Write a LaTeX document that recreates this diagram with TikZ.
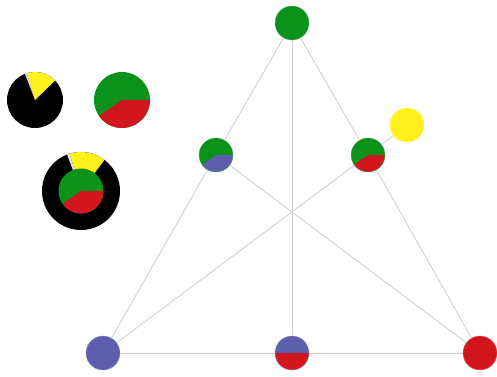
\documentclass[tikz,border=0pt]{standalone}
\begin{document}
\begin{tikzpicture}[x=1pt,y=1pt]
\definecolor{cgreen}{RGB}{10,146,26}
\definecolor{cred}{RGB}{210,22,30}
\definecolor{cblue}{RGB}{94,94,174}
\definecolor{cyellow}{RGB}{255,240,30}
\definecolor{cline}{RGB}{205,205,205}
\definecolor{csliver}{RGB}{225,225,225}
\tikzset{
  dot/.style={circle, inner sep=0pt, minimum size=34pt, fill=#1, draw=#1!70!white, line width=0.4pt},
  twocol/.style n args={3}{circle, inner sep=0pt, minimum size=34pt, fill=#1, draw=#1!70!white, line width=0.4pt,
    path picture={\fill[#2] (path picture bounding box.center) -- ++(#3:20) arc[start angle=#3, end angle=-145, radius=20] -- cycle;}},
  halves/.style 2 args={circle, inner sep=0pt, minimum size=34pt, fill=#1, draw=#1!70!white, line width=0.4pt,
    path picture={\fill[#2] (path picture bounding box.center) ++(-20,0) rectangle ++(40,-20);}},
  link/.style={draw=cline, line width=0.8pt}
}
\useasboundingbox (0,0) rectangle (497,376);
% graph nodes
\node[dot=cgreen] (top) at (292,353) {};
\node[dot=cblue] (bl) at (103,23) {};
\node[halves={cblue}{cred}] (bm) at (292,23) {};
\node[dot=cred] (br) at (480,23) {};
\node[twocol={cgreen}{cblue}{0}] (l) at (216,221) {};
\node[twocol={cgreen}{cred}{0}] (r) at (368,221) {};
\node[dot=cyellow] (y) at (407,251) {};
% connectors
\draw[link] (top) -- (l);
\draw[link] (l) -- (bl);
\draw[link] (top) -- (r);
\draw[link] (r) -- (br);
\draw[link] (bl) -- (bm);
\draw[link] (bm) -- (br);
\draw[link] (top) -- (bm);
\draw[link] (bl) -- (r);
\draw[link] (br) -- (l);
\draw[link] (r) -- (y);
% pie 1 (black / yellow)
\coordinate (p1) at (35,276);
\fill[black] (p1) circle[radius=28];
\fill[cyellow] (p1) -- ++(44:28) arc[start angle=44, end angle=107, radius=28] -- cycle;
\fill[csliver] (p1) -- ++(107:28) arc[start angle=107, end angle=111, radius=28] -- cycle;
% pie 2 (green / red)
\coordinate (p2) at (122,276);
\fill[cgreen] (p2) circle[radius=28];
\fill[cred] (p2) -- ++(0:28) arc[start angle=0, end angle=-145, radius=28] -- cycle;
% combined
\coordinate (p3) at (81,185);
\fill[black] (p3) circle[radius=39];
\fill[cyellow] (p3) -- ++(53:39) arc[start angle=53, end angle=107, radius=39] -- cycle;
\fill[csliver] (p3) -- ++(107:39) arc[start angle=107, end angle=111, radius=39] -- cycle;
\fill[cgreen] (p3) circle[radius=22.5];
\fill[cred] (p3) -- ++(0:22.5) arc[start angle=0, end angle=-145, radius=22.5] -- cycle;
\end{tikzpicture}
\end{document}
